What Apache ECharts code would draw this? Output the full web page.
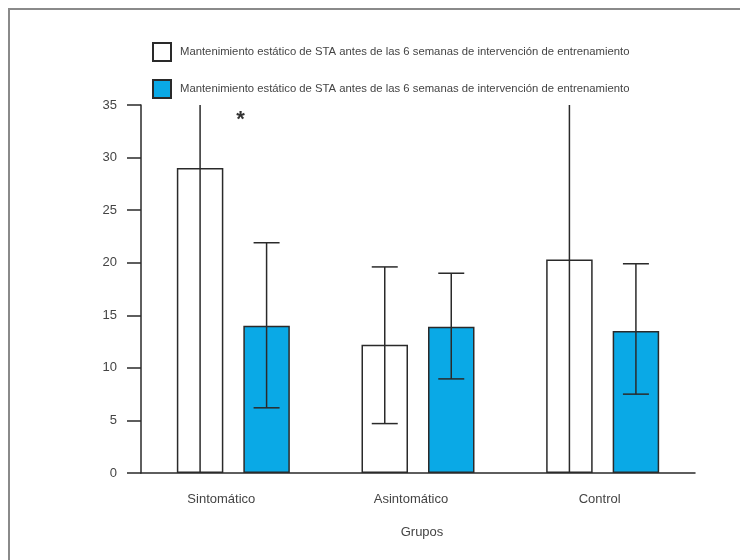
<!DOCTYPE html>
<html>
<head>
<meta charset="utf-8">
<script src="https://cdn.jsdelivr.net/npm/echarts@6/dist/echarts.min.js"></script>
<style>html,body{margin:0;padding:0;background:#fff;}#c{width:740px;height:560px;}</style>
</head>
<body>
<div id="c"></div>
<script>
var categories = ['Sintomático', 'Asintomático', 'Control'];
var seriesLabels = [
  'Mantenimiento estático de STA antes de las 6 semanas de intervención de entrenamiento',
  'Mantenimiento estático de STA antes de las 6 semanas de intervención de entrenamiento'
];
var preValues = [29.0, 12.2, 20.3];
var preErrLow = [0, 4.7, 0];
var preErrHigh = [35, 19.6, 35];
var postValues = [14.0, 13.9, 13.5];
var postErrLow = [6.2, 8.95, 7.5];
var postErrHigh = [21.9, 19.0, 19.9];
var yTicks = [0, 5, 10, 15, 20, 25, 30, 35];
var asteriskPoint = ['Sintomático', 33.6];

var Y_MIN = yTicks[0], Y_MAX = yTicks[yTicks.length - 1];
var BAR_W = 46.5, BAR_GAP_PX = 20;
var OFFSET = (BAR_W + BAR_GAP_PX) / 2;
// small label shifts seen in the reference (style only)
var labelPads = [[0, 24, 0, 0], [0, 14, 0, 0], [0, 6, 0, 0]];
var labelMargins = [20, 20, 15];

function errSeries(name, low, high, sign) {
  var data = categories.map(function (c, i) { return [i, low[i], high[i]]; });
  return {
    type: 'custom',
    name: name + '_err',
    silent: true,
    z: 5,
    data: data,
    renderItem: function (params, api) {
      var i = api.value(0);
      var lo = api.value(1), hi = api.value(2);
      var loC = Math.max(lo, Y_MIN), hiC = Math.min(hi, Y_MAX);
      var pLo = api.coord([i, loC]);
      var pHi = api.coord([i, hiC]);
      var x = pLo[0] + sign * OFFSET;
      var cap = 13;
      var st = { stroke: '#2a2a2a', lineWidth: 1.5 };
      var children = [{ type: 'line', shape: { x1: x, y1: pLo[1], x2: x, y2: pHi[1] }, style: st }];
      if (lo > Y_MIN) children.push({ type: 'line', shape: { x1: x - cap, y1: pLo[1], x2: x + cap, y2: pLo[1] }, style: st });
      if (hi < Y_MAX) children.push({ type: 'line', shape: { x1: x - cap, y1: pHi[1], x2: x + cap, y2: pHi[1] }, style: st });
      return { type: 'group', children: children };
    }
  };
}

var chart = echarts.init(document.getElementById('c'));
chart.setOption({
  animation: false,
  backgroundColor: '#fff',
  textStyle: { fontFamily: 'Liberation Sans, Arial, sans-serif' },
  graphic: [
    { type: 'polyline', shape: { points: [[9, 560], [9, 9], [740, 9]] }, style: { stroke: '#8a8a8a', lineWidth: 2, fill: null } }
  ],
  legend: {
    orient: 'vertical',
    left: 152, top: 42, padding: 0,
    itemWidth: 18, itemHeight: 18, itemGap: 17,
    icon: 'rect',
    data: ['pre', 'post'],
    formatter: function (n) { return n === 'pre' ? seriesLabels[0] : seriesLabels[1]; },
    textStyle: { fontSize: 11.3, color: '#444', padding: [1, 0, 0, 4] }
  },
  grid: { left: 141, right: 45, top: 105, bottom: 87 },
  xAxis: {
    type: 'category',
    data: categories.map(function (c, i) { return { value: c, textStyle: { padding: labelPads[i] } }; }),
    name: 'Grupos',
    nameLocation: 'middle',
    nameGap: 53,
    nameTextStyle: { fontSize: 13, color: '#444', padding: [0, 0, 0, 8] },
    axisLine: { lineStyle: { color: '#2a2a2a', width: 1.5 } },
    axisTick: { show: false },
    axisLabel: { fontSize: 13, color: '#444', margin: 20 }
  },
  yAxis: {
    type: 'value',
    min: Y_MIN, max: Y_MAX, interval: 5,
    splitLine: { show: false },
    axisLine: { show: true, lineStyle: { color: '#2a2a2a', width: 1.5 } },
    axisTick: { show: true, length: 14, lineStyle: { color: '#2a2a2a', width: 1.5 } },
    axisLabel: { fontSize: 13, color: '#444', margin: 24 }
  },
  series: [
    {
      name: 'pre', type: 'bar', data: preValues,
      barWidth: BAR_W, barGap: (BAR_GAP_PX / BAR_W * 100) + '%',
      itemStyle: { color: '#ffffff', borderColor: '#2a2a2a', borderWidth: 1.5 }
    },
    {
      name: 'post', type: 'bar', data: postValues,
      barWidth: BAR_W,
      itemStyle: { color: '#0aa9e6', borderColor: '#2a2a2a', borderWidth: 1.5 },
      markPoint: {
        symbol: 'circle', symbolSize: 0,
        label: { show: true, formatter: '*', fontSize: 22, color: '#333', fontWeight: 'bold', offset: [-26, 0] },
        data: [{ coord: asteriskPoint }]
      }
    },
    errSeries('pre', preErrLow, preErrHigh, -1),
    errSeries('post', postErrLow, postErrHigh, 1)
  ]
});
</script>
</body>
</html>
